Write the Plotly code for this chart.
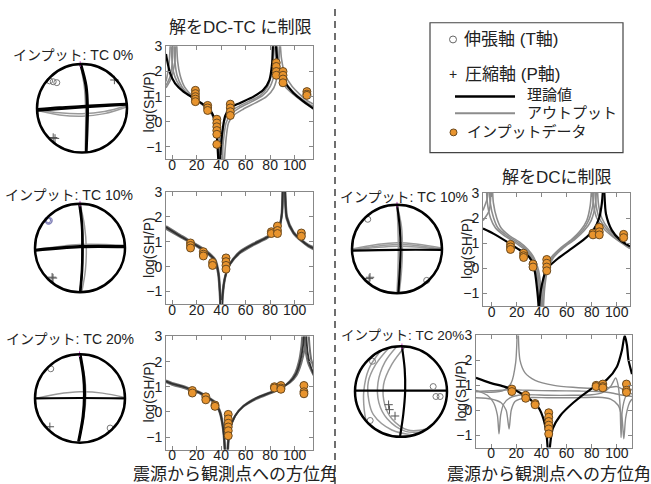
import plotly.graph_objects as go

W, H = 651, 484

# ---------------- tick labels ----------------
AZ_TICKS = [0, 20, 40, 60, 80, 100]
LOG_TICKS = [-1, 0, 1, 2, 3]
LOG_TICKTEXT = ["−1", "0", "1", "2", "3"]

# ---------------- input data (orange points) ----------------
TC0_STA = [19, 29, 36.5, 47.5, 85, 90.5, 110]
TC0_LOG = [[1.25, 1.12, 1.0, 0.9, 0.8], [0.65, 0.55, 0.45], [0.1, -0.05, -0.2, -0.35, -0.5, -0.9],
           [0.7, 0.55, 0.4, 0.25], [2.35, 2.2, 2.0, 1.85], [2.0, 1.85, 1.7, 1.55], [1.2, 1.1, 1.05]]
TC10_STA = [15, 25.5, 33, 44, 81, 86, 105.5]
TC10_LOG = [[0.95, 0.85, 0.75], [0.6, 0.5, 0.43], [0.17, 0.05], [0.35, 0.2, 0.05, -0.1],
            [1.4, 1.33], [1.63, 1.45, 1.33], [1.35, 1.22]]
TC20_STA = [16.5, 27.5, 35, 45.8, 83.5, 88.8, 107.6]
TC20_LOG = [[0.85, 0.75], [0.6, 0.48], [0.27, 0.22], [-0.1, -0.28, -0.45, -0.6, -0.75, -0.95],
            [1.0, 0.95], [1.05, 0.95, 0.9], [1.05, 0.8, 0.72]]

# ---------------- log(SH/P) curves (branches separated by None) ----------------
# top-left: DC-TC, TC 0%
TL_TH_X = [-5, -4.3, -1.6, 2.4, 9.2, 17.4, 25.6, 32.4, 35.1, 36.5, 37.6, 38.2, None,
           38.8, 39.2, 40.6, 43.3, 47.3, 55.5, 66.4, 74.5, 79.4, 81.6, 82.2, 82.6, None,
           84.4, 84.9, 86.8, 90.9, 99, 107.2, 115.5]
TL_TH_Y = [2.7, 2.5, 1.92, 1.53, 1.2, 0.94, 0.68, 0.36, -0.03, -0.55, -1.45, -2.0, None,
           -2.0, -1.47, -0.55, 0.23, 0.55, 0.75, 1.0, 1.27, 1.66, 2.31, 2.96, 3.6, None,
           3.6, 2.96, 2.18, 1.66, 1.14, 0.81, 0.52]
TL_OUT1_X = [-5, -3, -1.8, -1.3, None, -0.8, -0.3, 1, 4, 9, 17, 25, 31, 35, 37, 38.2, None,
             39.5, 40.5, 42.5, 46, 52, 62, 72, 78, 81.5, 82.6, None, 83.5, 84.5, 87, 93, 100, 108, 115.5]
TL_OUT1_Y = [1.6, 2.1, 2.8, 3.5, None, 3.5, 2.6, 2.0, 1.6, 1.25, 0.95, 0.68, 0.4, 0.0, -0.5, -1.6, None,
             -1.6, -0.8, 0.0, 0.35, 0.55, 0.8, 1.05, 1.4, 2.0, 3.1, None, 3.1, 2.5, 1.85, 1.35, 1.05, 0.75, 0.5]
TL_OUT2_X = [-5, -2, 0, 0.7, None, 1.5, 2.3, 4, 8, 15, 24, 31, 35.5, 38.3, 39.6, None,
             40.6, 41.8, 44, 48, 55, 65, 74, 80, 83.8, 84.9, None, 85.6, 86.6, 89, 95, 102, 109, 115.5]
TL_OUT2_Y = [1.45, 1.75, 2.3, 3.3, None, 3.3, 2.4, 1.85, 1.4, 1.0, 0.7, 0.38, 0.05, -0.5, -1.6, None,
             -1.6, -0.8, -0.05, 0.3, 0.55, 0.8, 1.05, 1.4, 2.0, 3.1, None, 3.1, 2.5, 1.9, 1.4, 1.05, 0.8, 0.6]
TL_OUT3_X = [-5, -1, 2, 3, None, 3.6, 4.5, 6.5, 10, 17, 25, 32, 37, 40, 41.6, None,
             42.6, 43.8, 46, 50, 58, 68, 77, 83, 86.5, 87.6, None, 88.3, 89.3, 92, 98, 104, 110, 115.5]
TL_OUT3_Y = [1.35, 1.7, 2.3, 3.3, None, 3.3, 2.4, 1.85, 1.4, 1.0, 0.7, 0.35, 0.0, -0.5, -1.6, None,
             -1.6, -0.8, -0.05, 0.25, 0.5, 0.75, 1.0, 1.35, 2.0, 3.1, None, 3.1, 2.5, 1.9, 1.4, 1.1, 0.85, 0.7]

# middle-left: DC-TC, TC 10%
ML_TH_X = [-5, 6.5, 20.2, 28.3, 35.1, 37.8, 39.2, 39.7, None, 40.6, 41.1, 43.3, 47.3, 55.5, 66.4,
           77.3, 86.8, 89.5, 90.3, 90.7, None, 91.6, 92.2, 93.6, 99, 105.9, 111.3, 115.5]
ML_TH_Y = [1.58, 1.23, 0.84, 0.58, 0.25, -0.28, -1.2, -2.0, None, -2.0, -1.2, -0.41, 0.11, 0.58, 0.9,
           1.17, 1.5, 2.09, 3.0, 3.6, None, 3.6, 3.0, 1.96, 1.37, 1.04, 0.84, 0.74]
ML_OUT1_X = [-5, 6.5, 20, 28, 35, 37.6, 39.0, 39.5, None, 40.4, 40.9, 43.1, 47, 55.5, 66.4,
             77.3, 86.6, 89.3, 90.1, 90.5, None, 91.4, 92.0, 93.4, 99, 105.9, 111.3, 115.5]
ML_OUT1_Y = [1.52, 1.2, 0.82, 0.56, 0.22, -0.3, -1.2, -2.0, None, -2.0, -1.2, -0.43, 0.08, 0.55, 0.87,
             1.14, 1.47, 2.05, 3.0, 3.6, None, 3.6, 3.0, 1.93, 1.34, 1.01, 0.81, 0.7]
ML_OUT2_X = [-5, 6.5, 20.4, 28.5, 35.3, 38.0, 39.4, 39.9, None, 40.8, 41.3, 43.5, 47.5, 55.5, 66.4,
             77.3, 87.0, 89.7, 90.5, 90.9, None, 91.8, 92.4, 93.8, 99, 105.9, 111.3, 115.5]
ML_OUT2_Y = [1.62, 1.27, 0.87, 0.61, 0.28, -0.25, -1.2, -2.0, None, -2.0, -1.2, -0.39, 0.14, 0.61, 0.93,
             1.2, 1.53, 2.12, 3.0, 3.6, None, 3.6, 3.0, 2.0, 1.4, 1.07, 0.87, 0.78]

# bottom-left: DC-TC, TC 20%
BL_TH_X = [-5, 0, 9, 16, 23, 28, 33.7, 37, 39.2, 41, 42.2, 43.3, None, 45.2, 45.8, 47.3, 51.4, 58.2, 69,
           82.7, 90, 96.3, 101, 104.5, 106.8, 108, None, 109.2, 110.5, 112.5, 115.5]
BL_TH_Y = [1.22, 1.12, 1.0, 0.88, 0.75, 0.6, 0.42, 0.2, -0.04, -0.45, -0.9, -1.7, None, -1.7, -1.2, -0.68, -0.16, 0.23, 0.55,
           0.81, 0.98, 1.2, 1.5, 2.0, 2.6, 3.3, None, 3.3, 2.4, 1.9, 1.5]
BL_OUT1_X = [-5, 0, 9, 16, 23, 28, 33.5, 36.8, 39.0, 40.8, 42.0, 43.0, None, 44.9, 45.5, 47.0, 51.0, 58, 69,
             82.7, 90, 96, 100.5, 103.5, 105.5, 106.6, None, 107.6, 108.8, 111, 115.5]
BL_OUT1_Y = [1.18, 1.08, 0.96, 0.85, 0.72, 0.57, 0.4, 0.18, -0.06, -0.47, -0.92, -1.7, None, -1.7, -1.2, -0.7, -0.18, 0.2, 0.52,
             0.79, 0.97, 1.22, 1.55, 2.0, 2.6, 3.3, None, 3.3, 2.5, 1.95, 1.45]
BL_OUT2_X = [-5, 0, 9, 16, 23, 28, 34, 37.3, 39.5, 41.3, 42.5, 43.6, None, 45.5, 46.1, 47.6, 51.7, 58.5, 69,
             82.7, 90, 96.5, 101.5, 105.5, 108.5, 110.2, None, 111.2, 112.2, 113.5, 115.5]
BL_OUT2_Y = [1.25, 1.15, 1.03, 0.9, 0.78, 0.63, 0.44, 0.22, -0.02, -0.43, -0.88, -1.7, None, -1.7, -1.2, -0.66, -0.14, 0.25, 0.57,
             0.83, 0.99, 1.18, 1.45, 1.95, 2.6, 3.3, None, 3.3, 2.6, 2.1, 1.75]

# middle-right: DC only, TC 10%
MR_TH_X = [-7, 1.3, 12, 20, 28, 32, 34.6, 36.5, 37.3, 37.7, None, 37.9, 38.1, 40, 44, 52, 62.6, 73.3,
           81.3, 86.1, 88, 88.8, 89.3, None, 89.7, 90.1, 91.4, 96, 102.6, 110.6]
MR_TH_Y = [1.58, 1.38, 1.06, 0.8, 0.55, 0.29, -0.17, -0.94, -1.4, -2.0, None, -2.0, -1.4, -0.68, -0.03, 0.35, 0.74, 1.13,
           1.52, 2.03, 2.55, 3.0, 3.6, None, 3.6, 3.0, 2.16, 1.52, 1.13, 0.87]
MR_OUT1_X = [-4.3, -3.5, -1, 3, 10, 18, 26, 32, 35.5, 37.3, 38.2, None, 39.3, 40.3, 42.5, 47, 55, 64, 71, 76,
             78.8, 79.8, None, 80.5, 81.5, 84, 90, 97, 104, 110.6]
MR_OUT1_Y = [3.3, 2.6, 2.0, 1.6, 1.3, 1.05, 0.75, 0.4, -0.1, -0.8, -1.6, None, -1.6, -0.8, -0.1, 0.4, 0.8, 1.15, 1.5, 1.9,
             2.5, 3.2, None, 3.2, 2.5, 2.0, 1.55, 1.25, 1.0, 0.78]
MR_OUT2_X = [-7, -3.5, -2.9, None, -2, -1.2, 1.5, 5, 12, 20, 27.5, 33, 36.5, 38.3, 39.2, None, 40.3, 41.3, 43.5,
             48, 56, 65, 72.5, 77.5, 80.8, 81.8, None, 82.5, 83.5, 86, 92, 98, 105, 110.6]
MR_OUT2_Y = [2.3, 2.8, 3.3, None, 3.3, 2.6, 2.0, 1.6, 1.3, 1.05, 0.75, 0.4, -0.1, -0.8, -1.6, None, -1.6, -0.8, -0.1,
             0.4, 0.8, 1.15, 1.5, 1.9, 2.5, 3.2, None, 3.2, 2.5, 2.0, 1.55, 1.25, 1.0, 0.8]
MR_OUT3_X = [-7, -2, -0.6, None, 0.5, 1.3, 4, 7.5, 14, 22, 29, 34, 37.5, 39.3, 40.2, None, 41.3, 42.3, 44.5,
             49, 57, 66.5, 74, 79.5, 82.8, 83.8, None, 84.5, 85.5, 88, 93.5, 100, 106, 110.6]
MR_OUT3_Y = [1.9, 2.3, 3.3, None, 3.3, 2.6, 2.0, 1.6, 1.3, 1.05, 0.75, 0.4, -0.1, -0.8, -1.6, None, -1.6, -0.8, -0.1,
             0.4, 0.8, 1.15, 1.5, 1.9, 2.5, 3.2, None, 3.2, 2.5, 2.0, 1.55, 1.25, 1.0, 0.82]

# bottom-right: DC only, TC 20%
BR_TH_X = [-12, -0.8, 9.8, 20.4, 31, 37.6, 41.6, 43.8, 44.8, 45.4, None, 46.3, 46.9, 49, 54.9, 65.5, 78.8, 92,
           100, 104, 106.2, 108, 109.2, 112]
BR_TH_Y = [1.3, 1.1, 0.96, 0.77, 0.44, 0.11, -0.35, -0.87, -1.4, -2.0, None, -2.0, -1.4, -0.74, -0.22, 0.31, 0.83, 1.23,
           1.75, 2.41, 3.0, 2.6, 2.02, 1.45]
BR_OUT1_X = [-12, 0, 10, 16, 19.5, 20.8, None, 21.6, 23, 27, 35, 50, 65, 80, 92, 100, 106, 112]
BR_OUT1_Y = [0.75, 0.72, 0.8, 1.1, 1.9, 3.2, None, 3.2, 2.0, 1.5, 1.2, 1.0, 0.92, 0.88, 0.9, 0.95, 0.8, 0.65]
BR_OUT2_X = [-12, -3, 2, 5, 6.3, 7.6, 10, 15, 25, 45, 65, 80, 88, 95, 99, 101, 102.5, 103.3, 104.3, 107, 112]
BR_OUT2_Y = [0.8, 0.6, 0.3, -0.2, -0.95, -0.2, 0.25, 0.5, 0.62, 0.6, 0.6, 0.62, 0.7, 0.95, 1.3, 1.0, 0.2, -1.1, 0.0, 0.55, 0.85]
BR_OUT3_X = [-12, 0, 8, 12, 14.3, 16, 19, 28, 45, 65, 85, 95, 101, 104, 105.5, 107, 110, 112]
BR_OUT3_Y = [0.5, 0.45, 0.3, 0.0, -0.75, 0.0, 0.35, 0.5, 0.5, 0.5, 0.52, 0.45, 0.2, -0.3, -1.15, -0.3, 0.3, 0.45]
BR_OUT4_X = [-12, 0, 15, 30, 50, 70, 85, 95, 105, 112]
BR_OUT4_Y = [0.75, 0.78, 0.82, 0.8, 0.78, 0.77, 0.75, 0.7, 0.6, 0.55]

# ---------------- focal-sphere projections (unit circle coordinates) ----------------
TL_NET_BLACK_X = [-0.04, 0.08, 0.11, 0.10, 0.09, None, -0.02, 0.10, 0.13, 0.12, 0.10, None,
                  -0.99, -0.5, 0, 0.5, 0.99, None, -0.99, 0, 0.99]
TL_NET_BLACK_Y = [1.0, 0.5, 0.0, -0.5, -0.99, None, 1.0, 0.5, 0.0, -0.5, -0.99, None,
                  -0.02, 0.02, 0.05, 0.08, 0.1, None, -0.05, 0.02, 0.08]
TL_NET_GRAY_X = [-0.04, 0.05, 0.08, 0.08, 0.07, None, -0.99, -0.5, 0, 0.5, 0.99, None, -0.99, -0.5, 0, 0.5, 0.99]
TL_NET_GRAY_Y = [1.0, 0.5, 0.0, -0.5, -0.99, None, -0.05, -0.15, -0.18, -0.12, 0.03, None, -0.03, -0.1, -0.12, -0.07, 0.06]
TL_T_X, TL_T_Y = [-0.72, -0.64, -0.56], [0.62, 0.6, 0.58]
TL_P_X, TL_P_Y = [0.72, -0.64, -0.6], [0.64, -0.66, -0.68]

ML_NET_BLACK_X = [0.0, 0.05, 0.06, 0.05, 0.01, None, -0.02, 0.04, 0.05, 0.04, 0.0, None,
                  -0.99, 0, 0.99, None, -0.99, 0, 0.99]
ML_NET_BLACK_Y = [1.0, 0.5, 0.0, -0.5, -0.99, None, 1.0, 0.5, 0.0, -0.5, -0.99, None,
                  -0.06, 0.02, 0.02, None, -0.04, 0.04, 0.04]
ML_NET_GRAY_X = [0.0, 0.1, 0.14, 0.12, 0.04, None, -0.99, 0, 0.99]
ML_NET_GRAY_Y = [1.0, 0.5, 0.0, -0.5, -0.99, None, -0.04, 0.08, 0.06]
ML_T_X, ML_T_Y = [-0.72, -0.7, -0.68], [0.63, 0.6, 0.62]
ML_P_X, ML_P_Y = [-0.62, -0.6], [-0.66, -0.68]

BL_NET_BLACK_X = [-0.01, 0.07, 0.09, 0.06, -0.04, None, 0.01, 0.09, 0.11, 0.08, -0.02, None, -1.0, 0, 1.0]
BL_NET_BLACK_Y = [1.0, 0.5, 0.1, -0.4, -0.97, None, 1.0, 0.5, 0.1, -0.4, -0.97, None, 0.0, 0.01, 0.0]
BL_NET_GRAY_X = [-0.99, -0.5, 0, 0.5, 0.99, None, -0.01, 0.1, 0.13, 0.09, -0.03]
BL_NET_GRAY_Y = [0.0, 0.1, 0.15, 0.12, 0.02, None, 1.0, 0.5, 0.1, -0.4, -0.97]
BL_T_X, BL_T_Y = [-0.65, 0.67], [0.67, -0.67]
BL_P_X, BL_P_Y = [-0.67], [-0.64]

MR_NET_BLACK_X = [0.0, 0.06, 0.08, 0.06, 0.03, None, -0.99, 0, 0.99]
MR_NET_BLACK_Y = [1.0, 0.5, 0.0, -0.5, -0.99, None, -0.04, -0.02, -0.02]
MR_NET_GRAY_X = [0.0, 0.02, 0.03, 0.02, 0.0, None, 0.0, 0.1, 0.12, 0.1, 0.05, None,
                 -0.99, 0, 0.99, None, -0.99, 0, 0.99, None, -0.99, 0, 0.99]
MR_NET_GRAY_Y = [1.0, 0.5, 0.0, -0.5, -0.99, None, 1.0, 0.5, 0.0, -0.5, -0.99, None,
                 -0.02, 0.1, 0.0, None, 0.0, 0.14, 0.02, None, -0.03, 0.06, -0.01]
MR_T_X, MR_T_Y = [-0.65, 0.66], [0.67, -0.71]
MR_P_X, MR_P_Y = [-0.62, -0.6], [-0.67, -0.64]

BR_NET_BLACK_X = [0.02, 0.08, 0.09, 0.05, -0.02, None, -1.0, 0, 1.0]
BR_NET_BLACK_Y = [1.0, 0.5, 0.0, -0.5, -0.99, None, 0.02, 0.02, 0.02]
BR_NET_GRAY_X = [-0.27, -0.55, -0.71, -0.7, -0.6, -0.2, 0.27, None,
                 -0.09, -0.35, -0.5, -0.48, -0.3, 0.1, 0.45, None,
                 -0.45, -0.7, -0.81, -0.8, -0.76, None,
                 0.09, -0.2, -0.38, -0.35, -0.2, 0.15, 0.56]
BR_NET_GRAY_Y = [0.96, 0.6, 0.22, -0.2, -0.51, -0.85, -0.96, None,
                 0.996, 0.65, 0.2, -0.25, -0.6, -0.88, -0.89, None,
                 0.89, 0.5, 0.0, -0.4, -0.65, None,
                 0.996, 0.6, 0.15, -0.3, -0.6, -0.85, -0.83]
BR_T_X, BR_T_Y = [-0.62, 0.7, 0.76, 0.85, -0.67], [0.67, 0.11, -0.11, -0.11, -0.64]
BR_P_X, BR_P_Y = [-0.27, -0.25, -0.13], [-0.29, -0.4, -0.54]

# ---------------- figure ----------------
FONT = "Liberation Sans, Arial, Noto Sans CJK JP, sans-serif"
ORANGE = "#E8942E"
ORANGE_EDGE = "#6b4a1f"
GRAY = "#8c8c8c"

fig = go.Figure()
layout = dict(width=W, height=H, autosize=False, margin=dict(l=0, r=0, t=0, b=0, pad=0),
              paper_bgcolor="white", plot_bgcolor="white", showlegend=False,
              font=dict(family=FONT, color="#222"))


def px_dom_x(a, b):
    return [a / W, b / W]


def px_dom_y(top, bottom):
    return [1 - bottom / H, 1 - top / H]


def plot_axes(i, xpx, ypx, xr):
    xa = dict(domain=px_dom_x(*xpx), range=xr, anchor="y%d" % i, tickvals=AZ_TICKS,
              ticks="inside", ticklen=4, tickcolor="#888", showline=True, linecolor="#888",
              linewidth=1, mirror="ticks", showgrid=False, zeroline=False, ticklabelstandoff=-7,
              tickfont=dict(size=14, family=FONT, color="#222"))
    ya = dict(domain=px_dom_y(*ypx), range=[-1.5, 3], anchor="x%d" % i, tickvals=LOG_TICKS,
              ticktext=LOG_TICKTEXT, ticks="inside", ticklen=4, tickcolor="#888", showline=True,
              linecolor="#888", linewidth=1, mirror="ticks", showgrid=False, zeroline=False,
              tickfont=dict(size=14, family=FONT, color="#222"))
    layout["xaxis" if i == 1 else "xaxis%d" % i] = xa
    layout["yaxis" if i == 1 else "yaxis%d" % i] = ya


def net_axes(i, cx, cy, r):
    h = 1.15 * r
    layout["xaxis%d" % i] = dict(domain=px_dom_x(cx - h, cx + h), range=[-1.15, 1.15], anchor="y%d" % i,
                                 visible=False, fixedrange=True)
    layout["yaxis%d" % i] = dict(domain=px_dom_y(cy - h, cy + h), range=[-1.15, 1.15], anchor="x%d" % i,
                                 visible=False, fixedrange=True)


plot_axes(1, (166, 313), (39, 154), [-5, 115])
plot_axes(2, (166, 313), (187, 301), [-5, 115])
plot_axes(3, (166, 313), (334, 449), [-5, 115])
plot_axes(4, (483, 630), (188, 303), [-7, 110.6])
plot_axes(5, (476, 632), (333, 447), [-12, 112])

NETS = [(6, 82, 102, 45), (7, 80, 244, 45), (8, 80, 397, 45), (9, 397, 245, 45), (10, 401, 390, 46)]
for i, cx, cy, r in NETS:
    net_axes(i, cx, cy, r)


def ax(i):
    return ("x" if i == 1 else "x%d" % i), ("y" if i == 1 else "y%d" % i)


def curve(i, xs, ys, color, width):
    xa, ya = ax(i)
    fig.add_trace(go.Scatter(x=xs, y=ys, mode="lines", xaxis=xa, yaxis=ya, hoverinfo="skip",
                             line=dict(color=color, width=width, shape="spline", smoothing=0.7)))


def inputs(i, sta, logs):
    xs, ys = [], []
    for s, vals in zip(sta, logs):
        for v in vals:
            xs.append(s)
            ys.append(v)
    xa, ya = ax(i)
    fig.add_trace(go.Scatter(x=xs, y=ys, mode="markers", xaxis=xa, yaxis=ya, hoverinfo="skip",
                             marker=dict(size=8, color=ORANGE, line=dict(color=ORANGE_EDGE, width=1))))


# panel curves
for xs, ys in [(TL_OUT1_X, TL_OUT1_Y), (TL_OUT2_X, TL_OUT2_Y), (TL_OUT3_X, TL_OUT3_Y)]:
    curve(1, xs, ys, GRAY, 1.6)
curve(1, TL_TH_X, TL_TH_Y, "black", 2.2)
inputs(1, TC0_STA, TC0_LOG)

for xs, ys in [(ML_OUT1_X, ML_OUT1_Y), (ML_OUT2_X, ML_OUT2_Y)]:
    curve(2, xs, ys, "#707070", 2.2)
curve(2, ML_TH_X, ML_TH_Y, "#303030", 1.8)
inputs(2, TC10_STA, TC10_LOG)

for xs, ys in [(BL_OUT1_X, BL_OUT1_Y), (BL_OUT2_X, BL_OUT2_Y)]:
    curve(3, xs, ys, "#707070", 2.0)
curve(3, BL_TH_X, BL_TH_Y, "#303030", 1.8)
inputs(3, TC20_STA, TC20_LOG)

for xs, ys in [(MR_OUT1_X, MR_OUT1_Y), (MR_OUT2_X, MR_OUT2_Y), (MR_OUT3_X, MR_OUT3_Y)]:
    curve(4, xs, ys, GRAY, 1.6)
curve(4, MR_TH_X, MR_TH_Y, "black", 2.2)
inputs(4, TC10_STA, TC10_LOG)

for xs, ys in [(BR_OUT1_X, BR_OUT1_Y), (BR_OUT2_X, BR_OUT2_Y), (BR_OUT3_X, BR_OUT3_Y), (BR_OUT4_X, BR_OUT4_Y)]:
    curve(5, xs, ys, GRAY, 1.4)
curve(5, BR_TH_X, BR_TH_Y, "black", 2.2)
inputs(5, TC20_STA, TC20_LOG)

# focal spheres
NET_DATA = [
    (6, TL_NET_GRAY_X, TL_NET_GRAY_Y, TL_NET_BLACK_X, TL_NET_BLACK_Y, TL_T_X, TL_T_Y, TL_P_X, TL_P_Y, "#777"),
    (7, ML_NET_GRAY_X, ML_NET_GRAY_Y, ML_NET_BLACK_X, ML_NET_BLACK_Y, ML_T_X, ML_T_Y, ML_P_X, ML_P_Y, "#7a7ab4"),
    (8, BL_NET_GRAY_X, BL_NET_GRAY_Y, BL_NET_BLACK_X, BL_NET_BLACK_Y, BL_T_X, BL_T_Y, BL_P_X, BL_P_Y, "#777"),
    (9, MR_NET_GRAY_X, MR_NET_GRAY_Y, MR_NET_BLACK_X, MR_NET_BLACK_Y, MR_T_X, MR_T_Y, MR_P_X, MR_P_Y, "#777"),
    (10, BR_NET_GRAY_X, BR_NET_GRAY_Y, BR_NET_BLACK_X, BR_NET_BLACK_Y, BR_T_X, BR_T_Y, BR_P_X, BR_P_Y, "#777"),
]
shapes = []
for i, gx, gy, bx, by, tx, ty, px_, py_, tcol in NET_DATA:
    xa, ya = ax(i)
    fig.add_trace(go.Scatter(x=gx, y=gy, mode="lines", xaxis=xa, yaxis=ya, hoverinfo="skip",
                             line=dict(color="#9a9a9a", width=1.5, shape="spline")))
    fig.add_trace(go.Scatter(x=bx, y=by, mode="lines", xaxis=xa, yaxis=ya, hoverinfo="skip",
                             line=dict(color="black", width=2.2, shape="spline")))
    fig.add_trace(go.Scatter(x=tx, y=ty, mode="markers", xaxis=xa, yaxis=ya, hoverinfo="skip",
                             marker=dict(symbol="circle-open", size=6, color=tcol, line=dict(width=1))))
    fig.add_trace(go.Scatter(x=px_, y=py_, mode="markers", xaxis=xa, yaxis=ya, hoverinfo="skip",
                             marker=dict(symbol="cross-thin", size=6, color="#555", line=dict(width=1, color="#555"))))
    fig.add_trace(go.Scatter(x=[bx[0]], y=[1.0], mode="markers", xaxis=xa, yaxis=ya, hoverinfo="skip",
                             marker=dict(symbol="cross-thin", size=4, color="#c040c0", line=dict(width=1, color="#c040c0"))))
    shapes.append(dict(type="circle", xref=xa, yref=ya, x0=-1, y0=-1, x1=1, y1=1,
                       line=dict(color="black", width=2.5), layer="above"))

# dashed divider
shapes.append(dict(type="line", xref="paper", yref="paper", x0=335 / W, x1=335 / W, y0=0, y1=1,
                   line=dict(color="#222", width=1.3, dash="7px,5px")))
# legend box
shapes.append(dict(type="rect", xref="paper", yref="paper", x0=430 / W, x1=623 / W, y0=1 - 147 / H, y1=1 - 15 / H,
                   line=dict(color="#444", width=1.2), fillcolor="white", layer="below"))
shapes.append(dict(type="line", xref="paper", yref="paper", x0=455 / W, x1=515 / W, y0=1 - 90 / H, y1=1 - 90 / H,
                   line=dict(color="black", width=2.5)))
shapes.append(dict(type="line", xref="paper", yref="paper", x0=455 / W, x1=515 / W, y0=1 - 107 / H, y1=1 - 107 / H,
                   line=dict(color=GRAY, width=2)))
shapes.append(dict(type="circle", xref="paper", yref="paper", x0=450 / W, x1=457 / W, y0=1 - 130 / H, y1=1 - 123 / H,
                   line=dict(color=ORANGE_EDGE, width=1), fillcolor=ORANGE))
shapes.append(dict(type="circle", xref="paper", yref="paper", x0=449.5 / W, x1=456.5 / W, y0=1 - 35.5 / H, y1=1 - 28.5 / H,
                   line=dict(color="#666", width=1)))
layout["shapes"] = shapes


def ann(text, x, y, size, anchor="center", angle=0, color="#222"):
    return dict(text=text, x=x / W, y=1 - y / H, xref="paper", yref="paper", showarrow=False,
                xanchor=anchor, yanchor="middle", textangle=angle,
                font=dict(size=size, family=FONT, color=color))


anns = [
    ann("解をDC-TC に制限", 240, 20, 17),
    ann("解をDCに制限", 557, 172, 17),
    ann("インプット: TC 0%", 73, 48, 14),
    ann("インプット: TC 10%", 69, 190, 14),
    ann("インプット: TC 20%", 70, 337, 14),
    ann("インプット: TC 10%", 404, 192, 14),
    ann("インプット: TC 20%", 402, 333, 13.5),
    ann("震源から観測点への方位角", 235, 474, 17),
    ann("震源から観測点への方位角", 549, 474, 17),
    ann("log(SH/P)", 149, 96, 14, angle=-90),
    ann("log(SH/P)", 149, 244, 14, angle=-90),
    ann("log(SH/P)", 149, 391, 14, angle=-90),
    ann("log(SH/P)", 467, 245, 14, angle=-90),
    ann("log(SH/P)", 461, 390, 14, angle=-90),
    ann("伸張軸 (T軸)", 462, 32, 17, anchor="left"),
    ann("+", 453, 67, 14, anchor="center"),
    ann("圧縮軸 (P軸)", 463, 68, 17, anchor="left"),
    ann("理論値", 525, 88, 15, anchor="left"),
    ann("アウトプット", 525, 106, 15, anchor="left"),
    ann("インプットデータ", 465, 126, 15, anchor="left"),
]
layout["annotations"] = anns

fig.update_layout(**layout)
fig.write_html("out.html", config={"displayModeBar": False},
               post_script="document.body.style.margin='0px';document.body.style.overflow='hidden';")
